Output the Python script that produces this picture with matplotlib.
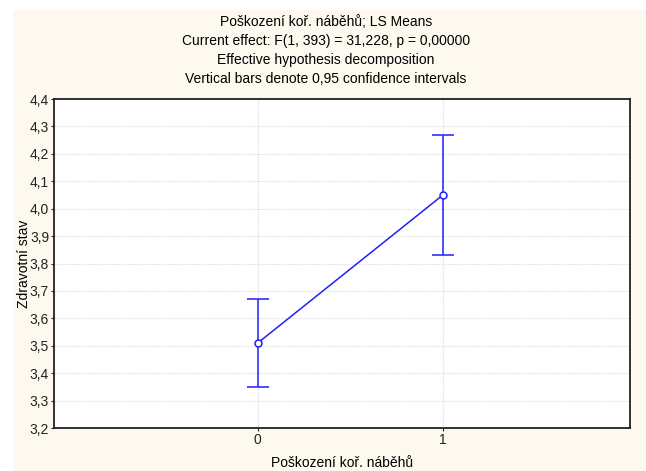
import matplotlib.pyplot as plt

# data
groups = [0, 1]
means = [3.51, 4.05]
ci_low = [3.35, 3.83]
ci_high = [3.67, 4.27]
y_ticks = [3.2, 3.3, 3.4, 3.5, 3.6, 3.7, 3.8, 3.9, 4.0, 4.1, 4.2, 4.3, 4.4]

title_lines = [
	"Poškození koř. náběhů; LS Means",
	"Current effect: F(1, 393) = 31,228, p = 0,00000",
	"Effective hypothesis decomposition",
	"Vertical bars denote 0,95 confidence intervals",
]

plt.rcParams["font.family"] = ["Liberation Sans", "DejaVu Sans"]

W, H = 646, 471
fig = plt.figure(figsize=(W / 100, H / 100), dpi=100)
fig.patch.set_facecolor("white")

# cream panel behind everything
bg = fig.add_axes([13 / W, 0, 1 - 13 / W, 1 - 10 / H], zorder=0)
bg.set_facecolor("#fef9ef")
bg.set_xticks([])
bg.set_yticks([])
for s in bg.spines.values():
	s.set_visible(False)

ax = fig.add_axes([54 / W, 1 - 428 / H, (630 - 54) / W, (428 - 99) / H], zorder=1)
ax.set_facecolor("white")

yerr = [[m - lo for m, lo in zip(means, ci_low)], [hi - m for m, hi in zip(means, ci_high)]]
ax.errorbar(groups, means, yerr=yerr, color="#1f1fff", lw=1.1, capsize=8, capthick=1.1,
	marker="o", ms=5, mfc="white", mec="#1f1fff", mew=1.1, zorder=3)

ax.set_xlim(-1.1, 2.01)
ax.set_ylim(3.2, 4.4)
ax.set_xticks(groups)
ax.set_yticks(y_ticks)
ax.set_yticklabels([f"{v:.1f}".replace(".", ",") for v in y_ticks])
ax.grid(True, color="#dddddd", linestyle=(0, (1, 1)), lw=0.8)
ax.set_axisbelow(True)
for s in ax.spines.values():
	s.set_linewidth(1.3)
	s.set_color("#222222")
ax.tick_params(labelsize=10, length=2, pad=1.5, colors="#222222")

ax.set_xlabel("Poškození koř. náběhů", fontsize=10)
ax.xaxis.set_label_coords(0.5, -(456 - 428) / 329)
ax.set_ylabel("Zdravotní stav", fontsize=10)
ax.yaxis.set_label_coords(-(54 - 31) / 576, 0.5)

for i, line in enumerate(title_lines):
	fig.text(0.5 + 3 / W, 1 - (22 + 19 * i) / H, line, ha="center", va="center", fontsize=10)

fig.savefig("out.png", dpi=100)
